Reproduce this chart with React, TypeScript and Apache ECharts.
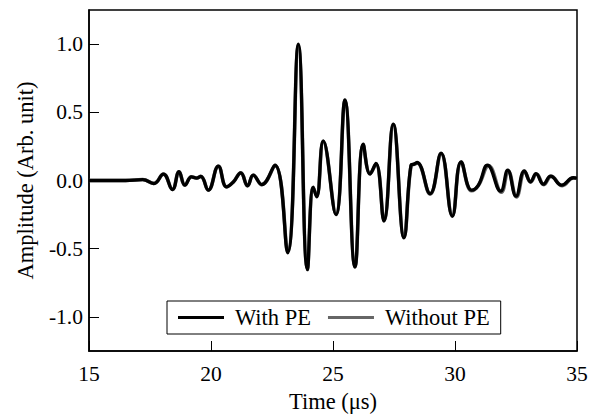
import React, { useEffect, useRef } from "react";
import * as echarts from "echarts";

const timeWith = [15, 16.5, 17.2, 17.66, 18.05, 18.42, 18.69, 18.93, 19.2, 19.41, 19.58, 19.89, 20.3, 20.64, 20.92, 21.22, 21.5, 21.73, 22.08, 22.62, 23.14, 23.58, 23.95, 24.19, 24.33, 24.6, 25.12, 25.49, 25.9, 26.24, 26.52, 26.76, 27.09, 27.47, 27.91, 28.2, 28.32, 28.45, 28.98, 29.43, 29.89, 30.25, 30.68, 30.96, 31.33, 31.87, 32.16, 32.5, 32.84, 33.1, 33.32, 33.62, 33.92, 34.37, 34.85, 35];
const ampWith = [0, 0, 0.007, -0.022, 0.047, -0.066, 0.064, -0.034, 0.027, 0.018, 0.03, -0.071, 0.105, -0.047, -0.01, 0.056, -0.039, 0.039, -0.03, 0.113, -0.53, 1.0, -0.654, -0.05, -0.12, 0.29, -0.25, 0.59, -0.635, 0.267, 0.047, 0.125, -0.297, 0.414, -0.42, 0.113, 0.12, 0.132, -0.096, 0.2, -0.262, 0.137, -0.071, -0.034, 0.113, -0.078, 0.076, -0.115, 0.071, -0.01, 0.051, -0.027, 0.032, -0.034, 0.02, 0.018];

const timeWithout = [15, 16.5, 17.2, 17.66, 18.05, 18.42, 18.69, 18.93, 19.2, 19.41, 19.58, 19.89, 20.3, 20.64, 20.92, 21.22, 21.5, 21.73, 22.08, 22.62, 23.14, 23.58, 23.95, 24.19, 24.33, 24.6, 25.12, 25.49, 25.9, 26.24, 26.52, 26.76, 27.09, 27.47, 27.91, 28.2, 28.32, 28.45, 28.98, 29.43, 29.89, 30.25, 30.68, 30.96, 31.38, 31.9, 32.18, 32.52, 32.86, 33.1, 33.34, 33.64, 33.94, 34.4, 34.85, 35];
const ampWithout = [0, 0, 0.007, -0.022, 0.047, -0.066, 0.064, -0.034, 0.027, 0.018, 0.03, -0.071, 0.105, -0.047, -0.01, 0.056, -0.039, 0.039, -0.03, 0.11, -0.52, 0.99, -0.645, -0.05, -0.115, 0.285, -0.245, 0.585, -0.63, 0.262, 0.05, 0.12, -0.29, 0.41, -0.415, 0.11, 0.118, 0.128, -0.1, 0.195, -0.255, 0.135, -0.075, -0.036, 0.108, -0.085, 0.07, -0.12, 0.066, -0.012, 0.048, -0.03, 0.03, -0.038, 0.018, 0.016];

const xTicks = [15, 20, 25, 30, 35];
const yTicks = [-1.0, -0.5, 0.0, 0.5, 1.0];

const FONT = "Liberation Serif";

export default function App() {
  const ref = useRef<HTMLDivElement>(null);
  useEffect(() => {
    document.body.style.margin = "0";
    if (!ref.current) return;
    const chart = echarts.init(ref.current, undefined, { renderer: "svg" });
    const withData = timeWith.map((t, i) => [t, ampWith[i]]);
    const withoutData = timeWithout.map((t, i) => [t, ampWithout[i]]);
    chart.setOption({
      animation: false,
      backgroundColor: "#fff",
      textStyle: { fontFamily: FONT },
      grid: {
        left: 89,
        right: 21,
        top: 10,
        bottom: 64,
        containLabel: false,
        outerBoundsMode: "none",
        show: true,
        borderColor: "#000",
        borderWidth: 1.5,
        backgroundColor: "transparent",
      },
      legend: {
        left: 167,
        top: 301,
        orient: "horizontal",
        backgroundColor: "#fff",
        borderColor: "#000",
        borderWidth: 1,
        borderRadius: 0,
        padding: [5, 11, 5, 11],
        itemWidth: 46,
        itemHeight: 3,
        itemGap: 17,
        icon: "rect",
        textStyle: { fontFamily: FONT, fontSize: 22.5, color: "#000", padding: [0, 0, 0, 6] },
        data: ["With PE", "Without PE"],
      },
      xAxis: {
        type: "value",
        min: 15,
        max: 35,
        interval: 5,
        name: "Time (μs)",
        nameLocation: "middle",
        nameGap: 33,
        nameTextStyle: { fontFamily: FONT, fontSize: 22.5, color: "#000" },
        axisLine: { onZero: false, lineStyle: { color: "#000", width: 1.5 } },
        axisTick: { inside: true, length: 10, lineStyle: { color: "#000", width: 1 } },
        axisLabel: {
          fontFamily: FONT,
          fontSize: 21.5,
          color: "#000",
          margin: 12,
          showMinLabel: true,
          showMaxLabel: true,
          formatter: (v: number) => (xTicks.includes(v) ? String(v) : ""),
        },
        splitLine: { show: false },
      },
      yAxis: {
        type: "value",
        min: -1.25,
        max: 1.25,
        name: "Amplitude (Arb. unit)",
        nameLocation: "middle",
        nameGap: 52,
        nameTextStyle: { fontFamily: FONT, fontSize: 22.5, color: "#000" },
        axisLine: { onZero: false, lineStyle: { color: "#000", width: 1.5 } },
        axisTick: {
          inside: true,
          length: 10,
          lineStyle: { color: "#000", width: 1 },
          customValues: yTicks,
        },
        axisLabel: {
          fontFamily: FONT,
          fontSize: 21.5,
          color: "#000",
          margin: 6,
          customValues: yTicks,
          formatter: (v: number) => v.toFixed(1),
        },
        splitLine: { show: false },
      },
      series: [
        {
          name: "Without PE",
          type: "line",
          data: withoutData,
          smooth: 0.45,
          symbol: "none",
          showSymbol: false,
          lineStyle: { color: "#666", width: 3.6 },
          itemStyle: { color: "#666" },
          z: 2,
        },
        {
          name: "With PE",
          type: "line",
          data: withData,
          smooth: 0.45,
          symbol: "none",
          showSymbol: false,
          lineStyle: { color: "#000", width: 3.3 },
          itemStyle: { color: "#000" },
          z: 3,
        },
      ],
    });
    return () => chart.dispose();
  }, []);
  return <div ref={ref} style={{ width: 598, height: 415 }} />;
}
